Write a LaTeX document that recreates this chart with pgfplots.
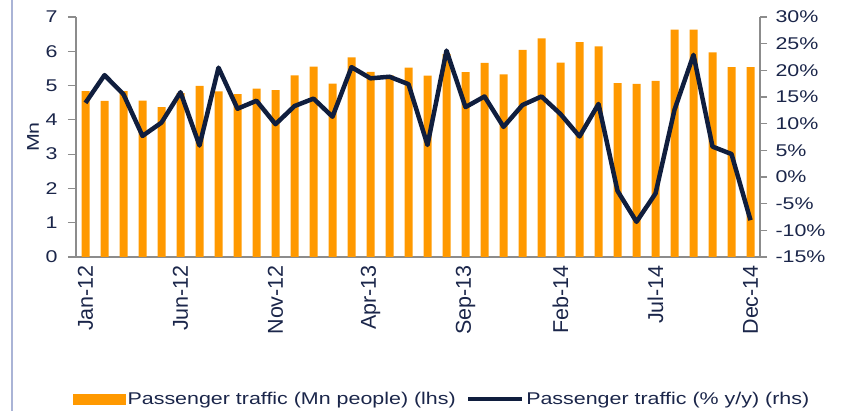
\documentclass[border=0pt]{standalone}
\usepackage{pgfplots}
\pgfplotsset{compat=1.18}
\usepackage{pgfplotstable}
\usepackage{fontspec}
\setmainfont{Liberation Sans}[FakeStretch=1.26]
\newfontfamily\xfont{Liberation Sans}
\definecolor{barorange}{RGB}{255,153,0}
\definecolor{navy}{RGB}{16,30,62}
\definecolor{txt}{RGB}{27,38,74}
\definecolor{axgray}{RGB}{140,140,140}
\definecolor{sideline}{RGB}{170,180,214}

\pgfplotstableread{
x val
0 4.84
1 4.55
2 4.84
3 4.56
4 4.37
5 4.78
6 4.99
7 4.83
8 4.75
9 4.91
10 4.87
11 5.30
12 5.55
13 5.06
14 5.82
15 5.40
16 5.30
17 5.52
18 5.29
19 5.92
20 5.39
21 5.66
22 5.33
23 6.04
24 6.38
25 5.67
26 6.27
27 6.14
28 5.07
29 5.05
30 5.14
31 6.63
32 6.63
33 5.97
34 5.54
35 5.54
}\bardata

\pgfplotstableread{
x val
0 13.9
1 19.1
2 15.5
3 7.7
4 10.2
5 15.9
6 5.9
7 20.5
8 12.8
9 14.3
10 9.9
11 13.3
12 14.7
13 11.3
14 20.6
15 18.5
16 18.8
17 17.4
18 6.0
19 23.7
20 13.1
21 15.1
22 9.4
23 13.5
24 15.1
25 11.8
26 7.6
27 13.7
28 -2.6
29 -8.4
30 -3.1
31 12.6
32 22.9
33 5.7
34 4.3
35 -8.1
}\linedata

\begin{document}
\begin{tikzpicture}
\useasboundingbox (0pt,0pt) rectangle (842pt,411pt);
\draw[sideline, line width=2pt] (12pt,0pt) -- (12pt,411pt);
\begin{axis}[
  at={(76pt,154pt)}, anchor=south west,
  scale only axis, width=684pt, height=240pt,
  xmin=-0.5, xmax=35.5, ymin=0, ymax=7,
  axis x line*=bottom, axis y line*=left,
  axis line style={axgray, line width=1.5pt},
  x axis line style={-}, y axis line style={-},
  ytick={0,1,2,3,4,5,6,7},
  yticklabels={0,1,2,3,4,5,6,7},
  xtick={0,5,10,15,20,25,30,35},
  xticklabels={Jan-12,Jun-12,Nov-12,Apr-13,Sep-13,Feb-14,Jul-14,Dec-14},
  x tick style={draw=none},
  y tick style={axgray, line width=1.2pt},
  tick align=outside, major tick length=8pt,
  yticklabel style={font=\fontsize{17}{20}\selectfont, text=txt},
  yticklabel shift=7pt,
  xticklabel style={font=\xfont\fontsize{21.5}{24}\selectfont, text=txt, rotate=90, anchor=east, inner sep=2pt},
  xticklabel shift=-2pt,
  ylabel={Mn},
  ylabel style={font=\fontsize{17}{20}\selectfont, text=txt, at={(axis description cs:-0.0629,0.5)}, anchor=center},
  /pgf/number format/assume math mode=true,
  ybar, bar width=8pt,
]
\addplot[fill=barorange, draw=none] table[x=x, y=val] {\bardata};
\end{axis}
\begin{axis}[
  at={(76pt,154pt)}, anchor=south west,
  scale only axis, width=684pt, height=240pt,
  xmin=-0.5, xmax=35.5, ymin=-15, ymax=30,
  axis x line=none, axis y line*=right,
  axis line style={axgray, line width=1.5pt},
  y axis line style={-},
  ytick={-15,-10,-5,0,5,10,15,20,25,30},
  yticklabels={-15\%,-10\%,-5\%,0\%,5\%,10\%,15\%,20\%,25\%,30\%},
  y tick style={axgray, line width=1.2pt},
  tick align=outside, major tick length=7pt,
  yticklabel style={font=\fontsize{17}{20}\selectfont, text=txt},
  yticklabel shift=5pt,
  /pgf/number format/assume math mode=true,
  legend columns=2,
  legend style={draw=none, fill=none, at={(-0.0044,-0.5917)}, anchor=west,
    inner sep=0pt, font=\fontsize{17}{20}\selectfont, text=txt,
    /tikz/every even column/.append style={column sep=8pt}},
  legend cell align=left,
]
\addlegendimage{legend image code/.code={\fill[barorange] (0pt,-5pt) rectangle (52pt,5pt);}}
\addlegendentry{Passenger traffic (Mn people) (lhs)}
\addplot[navy, line width=4.5pt, line join=round, mark=none,
  legend image code/.code={\draw[navy, line width=4.5pt] (0pt,0pt) -- (54pt,0pt);}]
  table[x=x, y=val] {\linedata};
\addlegendentry{Passenger traffic (\% y/y) (rhs)}
\end{axis}
\end{tikzpicture}
\end{document}
